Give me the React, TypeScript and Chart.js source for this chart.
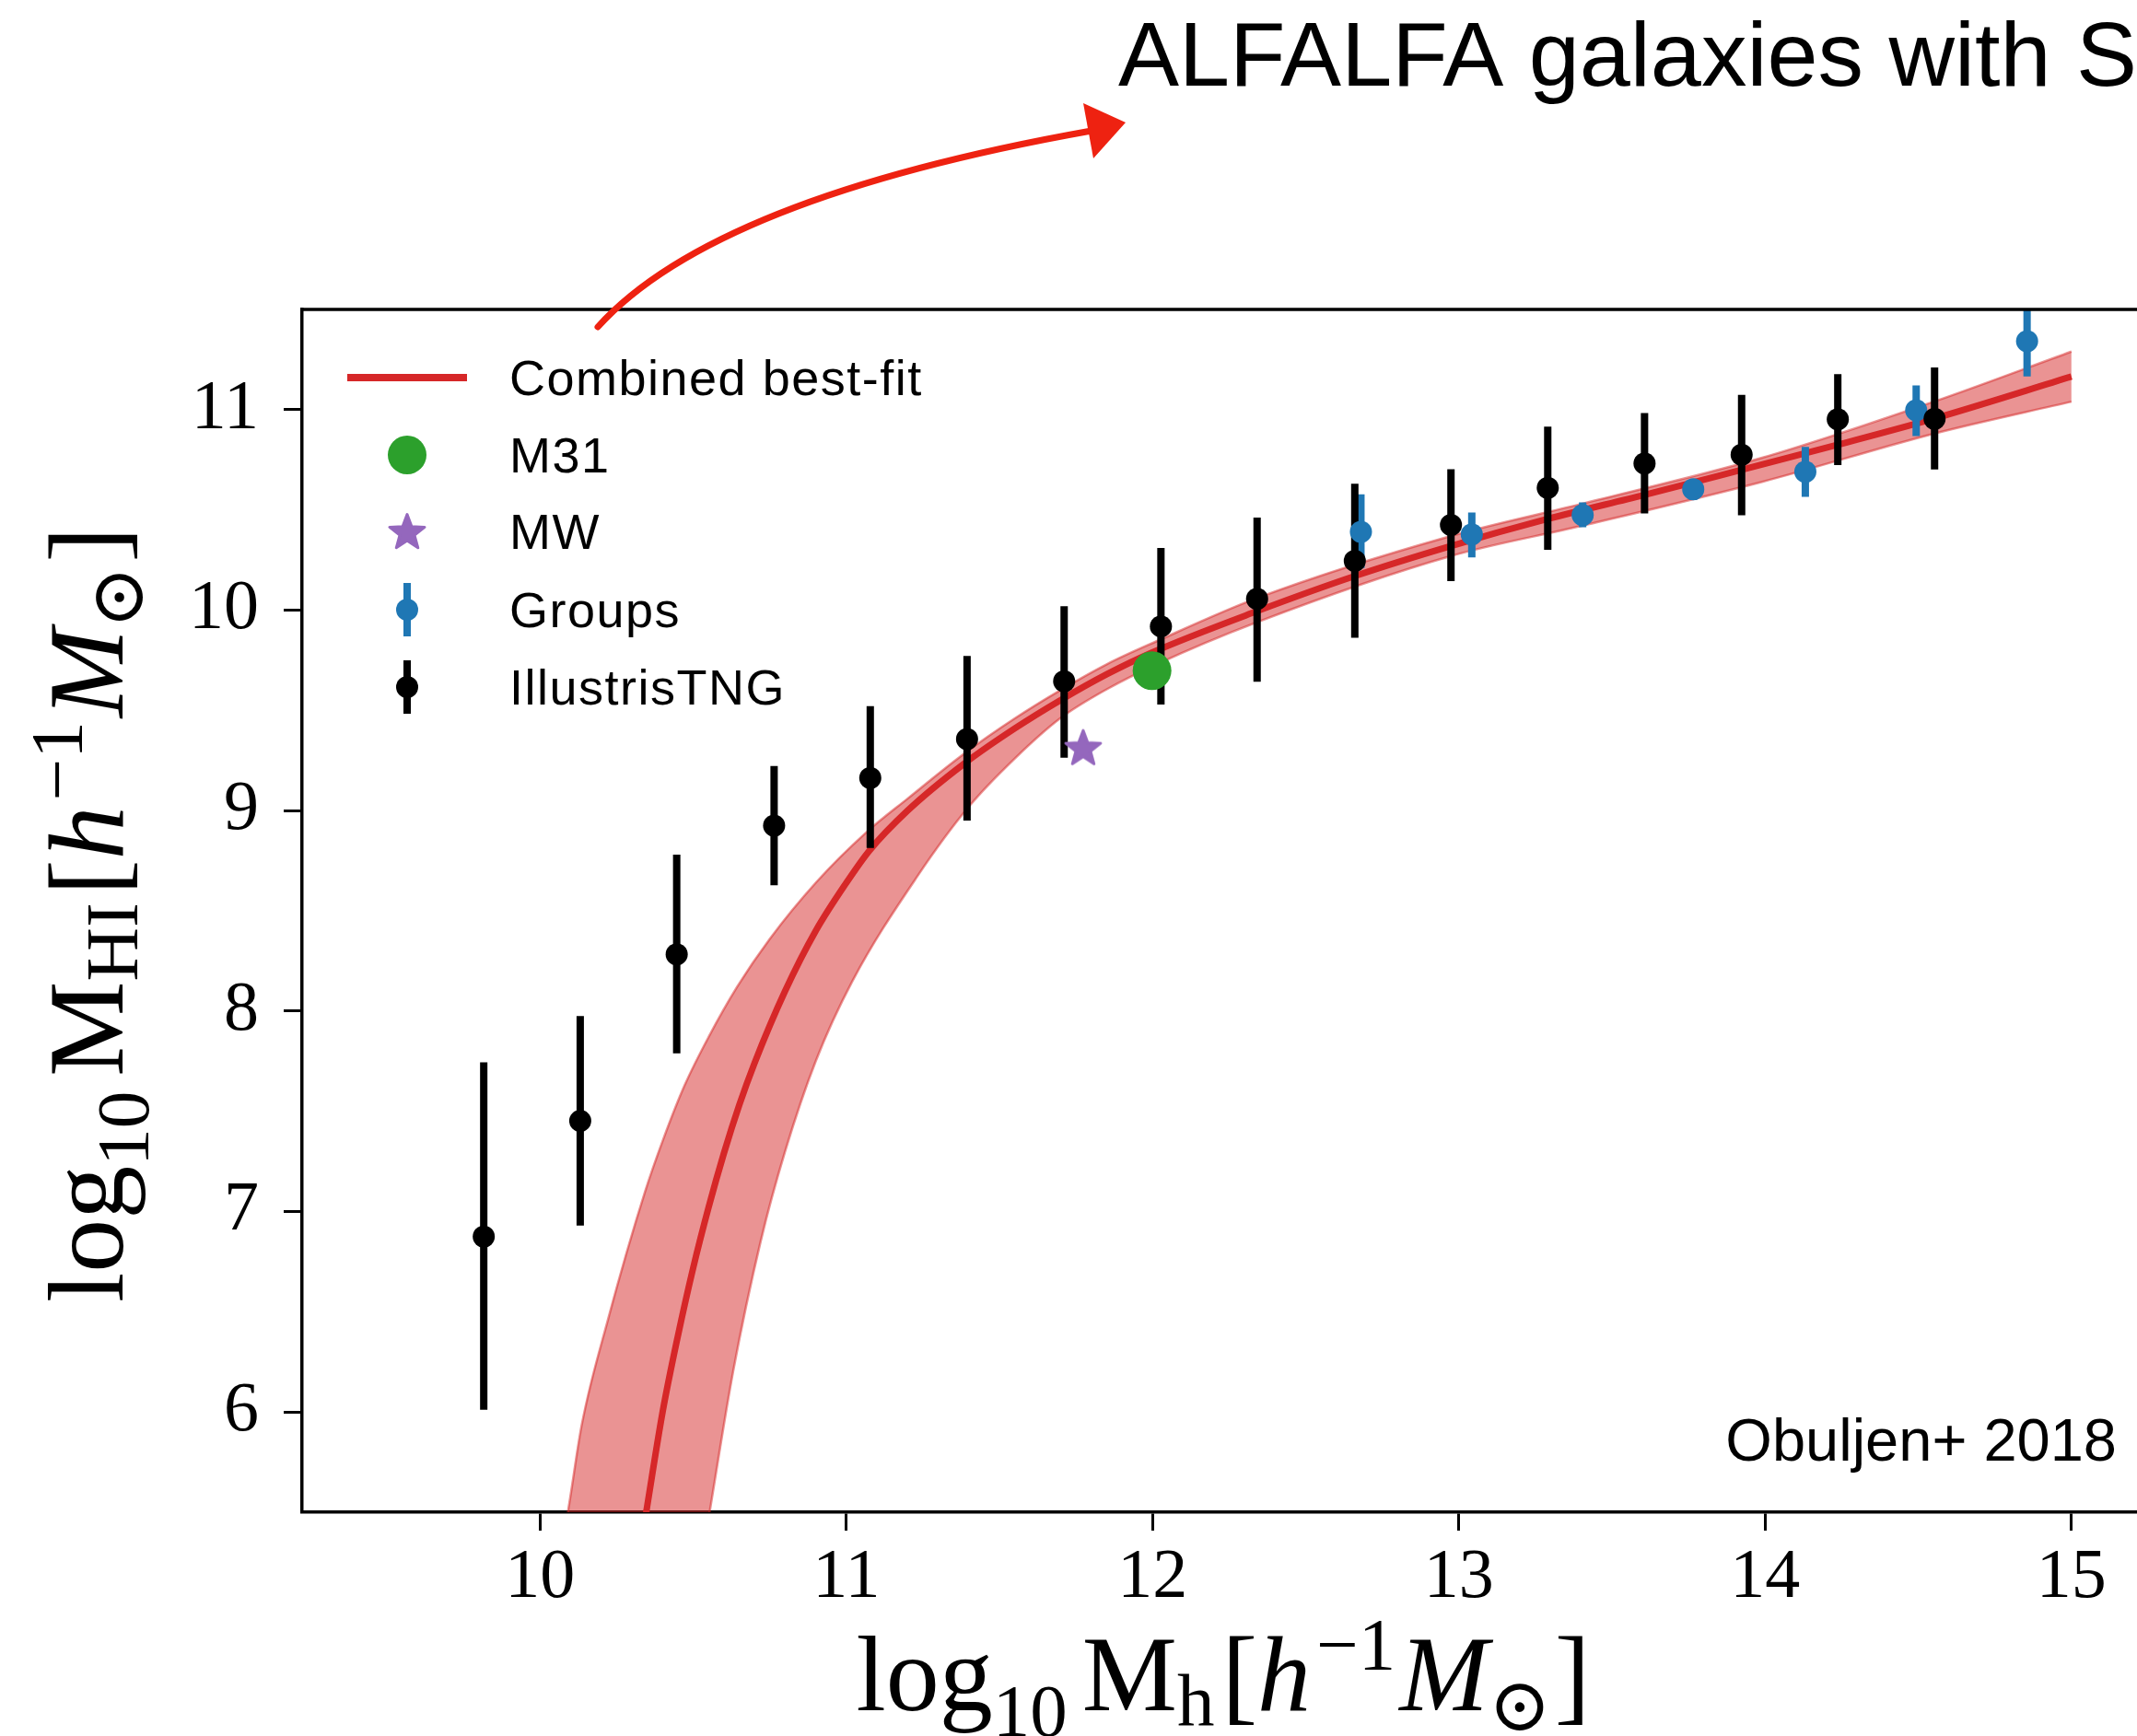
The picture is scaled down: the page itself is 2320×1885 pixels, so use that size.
import React, { useEffect, useRef } from 'react';
import { Chart, registerables } from 'chart.js';

Chart.register(...registerables);

// ---------------- data ----------------
const X_TICKS = [10, 11, 12, 13, 14, 15];
const Y_TICKS = [6, 7, 8, 9, 10, 11];

const LEGEND_LABELS = ['Combined best-fit', 'M31', 'MW', 'Groups', 'IllustrisTNG'];

// Combined best-fit curve
const FIT_X = [10.32, 10.347, 10.4, 10.45, 10.5, 10.55, 10.6, 10.65, 10.7, 10.8, 10.9, 11.0, 11.075, 11.2, 11.381, 11.55, 11.698, 11.85, 12.0, 12.341, 12.66, 12.974, 13.29, 13.606, 13.923, 14.237, 14.55, 15.0];
const FIT_Y = [5.25, 5.505, 6.0, 6.38, 6.72, 7.02, 7.29, 7.53, 7.74, 8.1, 8.4, 8.64, 8.8, 9.0, 9.23, 9.41, 9.55, 9.68, 9.79, 9.995, 10.17, 10.32, 10.455, 10.575, 10.7, 10.825, 10.955, 11.165];

// uncertainty band, upper edge
const BAND_UP_X = [10.06, 10.091, 10.136, 10.222, 10.342, 10.402, 10.472, 10.55, 10.643, 10.75, 10.9, 11.064, 11.2, 11.381, 11.55, 11.698, 11.85, 12.013, 12.341, 12.974, 13.4, 13.99, 14.55, 15.0];
const BAND_UP_Y = [5.26, 5.505, 5.936, 6.463, 7.096, 7.36, 7.63, 7.87, 8.12, 8.36, 8.64, 8.89, 9.06, 9.28, 9.46, 9.6, 9.73, 9.845, 10.06, 10.37, 10.53, 10.76, 11.04, 11.29];

// uncertainty band, lower edge
const BAND_LO_X = [10.06, 10.554, 10.63, 10.72, 10.8, 10.9, 11.02, 11.233, 11.4, 11.55, 11.698, 11.85, 12.013, 12.341, 12.974, 13.4, 13.99, 14.55, 15.0];
const BAND_LO_Y = [1.0, 5.505, 6.2, 6.85, 7.3, 7.75, 8.15, 8.675, 9.02, 9.26, 9.46, 9.605, 9.73, 9.94, 10.27, 10.42, 10.64, 10.88, 11.04];

// M31 and MW
const M31_X = [11.998];
const M31_Y = [9.698];
const MW_X = [11.773];
const MW_Y = [9.315];

// Groups (blue, with error bars)
const GROUPS_X = [12.68, 13.042, 13.404, 13.765, 14.131, 14.493, 14.855];
const GROUPS_Y = [10.391, 10.378, 10.474, 10.603, 10.69, 10.997, 11.342];
const GROUPS_LO = [10.21, 10.263, 10.414, 10.549, 10.565, 10.868, 11.166];
const GROUPS_HI = [10.578, 10.487, 10.537, 10.655, 10.814, 11.121, 11.52];

// IllustrisTNG (black, with error bars)
const TNG_X = [9.816, 10.131, 10.446, 10.764, 11.078, 11.394, 11.711, 12.027, 12.341, 12.66, 12.974, 13.29, 13.606, 13.923, 14.237, 14.553];
const TNG_Y = [6.875, 7.452, 8.283, 8.925, 9.163, 9.357, 9.645, 9.919, 10.056, 10.246, 10.425, 10.61, 10.732, 10.775, 10.952, 10.954];
const TNG_LO = [6.011, 6.93, 7.789, 8.627, 8.813, 8.95, 9.264, 9.529, 9.643, 9.862, 10.145, 10.301, 10.482, 10.473, 10.724, 10.702];
const TNG_HI = [7.744, 7.975, 8.78, 9.223, 9.521, 9.771, 10.02, 10.31, 10.462, 10.63, 10.703, 10.915, 10.983, 11.074, 11.177, 11.21];

// ---------------- styling ----------------
const RED = '#d62728';
const BAND = 'rgba(214,39,40,0.5)';
const GREEN = '#2ca02c';
const PURPLE = '#9467bd';
const BLUE = '#1f77b4';
const BLACK = '#000000';

const CANVAS_W = 2400;
const CANVAS_H = 1885;
const AREA_LEFT = 328;
const AREA_TOP = 336;
const AREA_RIGHT = 2332;
const AREA_BOTTOM = 1642;

const SERIF = "'Liberation Serif', 'DejaVu Serif', serif";
const SANS = "'Liberation Sans', Arial, sans-serif";

const xy = (xs: number[], ys: number[]) => xs.map((x, i) => ({ x, y: ys[i] }));
const errData = (xs: number[], lo: number[], hi: number[]) =>
  xs.flatMap((x, i) => [{ x, y: lo[i] }, { x, y: hi[i] }, { x, y: null as any }]);

function makeStar(r: number, color: string) {
  const size = Math.ceil(r * 2 + 6);
  const c = document.createElement('canvas');
  c.width = size;
  c.height = size;
  const g = c.getContext('2d')!;
  g.translate(size / 2, size / 2 + r * 0.08);
  g.beginPath();
  for (let i = 0; i < 10; i++) {
    const rr = i % 2 === 0 ? r : r * 0.42;
    const a = -Math.PI / 2 + (i * Math.PI) / 5;
    g.lineTo(rr * Math.cos(a), rr * Math.sin(a));
  }
  g.closePath();
  g.fillStyle = color;
  g.fill();
  g.lineJoin = 'round';
  g.lineWidth = 3;
  g.strokeStyle = color;
  g.stroke();
  return c;
}

type Run = { t: string; size: number; italic?: boolean; dy?: number; gap?: number };

function drawRuns(ctx: CanvasRenderingContext2D, runs: Run[]) {
  const fontOf = (r: Run) => `${r.italic ? 'italic ' : ''}${r.size}px ${SERIF}`;
  let total = 0;
  const widths = runs.map((r) => {
    ctx.font = fontOf(r);
    const w = ctx.measureText(r.t).width;
    total += w + (r.gap || 0);
    return w;
  });
  let x = -total / 2;
  ctx.textAlign = 'left';
  ctx.textBaseline = 'alphabetic';
  runs.forEach((r, i) => {
    x += r.gap || 0;
    ctx.font = fontOf(r);
    ctx.fillText(r.t, x, r.dy || 0);
    x += widths[i];
  });
}

const S = 116;
const s = 81;
const xTitleRuns: Run[] = [
  { t: 'log', size: S },
  { t: '10', size: s, dy: 28 },
  { t: 'M', size: S, gap: 16 },
  { t: 'h', size: s, dy: 16 },
  { t: '[', size: S, gap: 8 },
  { t: 'h', size: S, italic: true },
  { t: '\u22121', size: s, dy: -44, gap: 6 },
  { t: 'M', size: S, italic: true, gap: 4 },
  { t: '\u2299', size: s, dy: 22 },
  { t: ']', size: S, gap: 4 },
];
const yTitleRuns: Run[] = [
  { t: 'log', size: S },
  { t: '10', size: s, dy: 28 },
  { t: 'M', size: S, gap: 16 },
  { t: 'HI', size: s, dy: 16 },
  { t: '[', size: S, gap: 8 },
  { t: 'h', size: S, italic: true },
  { t: '\u22121', size: s, dy: -44, gap: 6 },
  { t: 'M', size: S, italic: true, gap: 4 },
  { t: '\u2299', size: s, dy: 22 },
  { t: ']', size: S, gap: 4 },
];

const framePlugin = {
  id: 'frame',
  afterDatasetsDraw(chart: any) {
    const { ctx, chartArea } = chart;
    ctx.save();
    ctx.strokeStyle = BLACK;
    ctx.lineWidth = 3.5;
    ctx.beginPath();
    ctx.moveTo(chartArea.left - 1.5, chartArea.top);
    ctx.lineTo(chartArea.right, chartArea.top);
    ctx.lineTo(chartArea.right, chartArea.bottom);
    ctx.stroke();
    ctx.restore();
  },
};

const decorPlugin = {
  id: 'decor',
  afterDraw(chart: any) {
    const ctx: CanvasRenderingContext2D = chart.ctx;
    ctx.save();
    ctx.fillStyle = BLACK;

    // x axis title
    ctx.save();
    ctx.translate(1328, 1857);
    drawRuns(ctx, xTitleRuns);
    ctx.restore();

    // y axis title
    ctx.save();
    ctx.translate(133, 993);
    ctx.rotate(-Math.PI / 2);
    drawRuns(ctx, yTitleRuns);
    ctx.restore();

    // legend
    const lx = 442;
    const rows = [410, 494, 577, 662, 746];
    const tx = 553;
    ctx.font = `54px ${SANS}`;
    (ctx as any).letterSpacing = '1.5px';
    ctx.textAlign = 'left';
    ctx.textBaseline = 'alphabetic';
    LEGEND_LABELS.forEach((lab, i) => {
      const cy = rows[i];
      ctx.fillStyle = BLACK;
      ctx.fillText(lab, tx, cy + 19);
      if (i === 0) {
        ctx.strokeStyle = RED;
        ctx.lineWidth = 8;
        ctx.beginPath();
        ctx.moveTo(377, cy);
        ctx.lineTo(507, cy);
        ctx.stroke();
      } else if (i === 1) {
        ctx.fillStyle = GREEN;
        ctx.beginPath();
        ctx.arc(lx, cy, 21, 0, Math.PI * 2);
        ctx.fill();
      } else if (i === 2) {
        const st = makeStar(20, PURPLE);
        ctx.drawImage(st, lx - st.width / 2, cy - st.height / 2);
      } else {
        const col = i === 3 ? BLUE : BLACK;
        ctx.strokeStyle = col;
        ctx.fillStyle = col;
        ctx.lineWidth = 8;
        ctx.lineCap = 'butt';
        ctx.beginPath();
        ctx.moveTo(lx, cy - 29);
        ctx.lineTo(lx, cy + 29);
        ctx.stroke();
        ctx.beginPath();
        ctx.arc(lx, cy, 12, 0, Math.PI * 2);
        ctx.fill();
      }
    });
    (ctx as any).letterSpacing = '0px';

    // credit text
    ctx.fillStyle = BLACK;
    ctx.font = `65px ${SANS}`;
    ctx.textAlign = 'right';
    ctx.fillText('Obuljen+ 2018', 2298, 1586);

    // headline
    ctx.textAlign = 'left';
    ctx.font = `99px ${SANS}`;
    ctx.fillText('ALFALFA galaxies with S', 1214, 93);

    // red hand-drawn arrow
    ctx.strokeStyle = '#ee2211';
    ctx.fillStyle = '#ee2211';
    ctx.lineWidth = 7;
    ctx.lineCap = 'round';
    ctx.beginPath();
    ctx.moveTo(649, 355);
    ctx.quadraticCurveTo(775, 215, 1185, 142);
    ctx.stroke();
    ctx.beginPath();
    ctx.moveTo(1176, 112);
    ctx.lineTo(1222, 133);
    ctx.lineTo(1187, 172);
    ctx.closePath();
    ctx.fill();

    ctx.restore();
  },
};

export default function App() {
  const ref = useRef<HTMLCanvasElement>(null);

  useEffect(() => {
    const canvas = ref.current!;
    const star = makeStar(20, PURPLE);
    const chart = new Chart(canvas, {
      type: 'line',
      data: {
        datasets: [
          {
            label: 'band upper',
            data: xy(BAND_UP_X, BAND_UP_Y),
            borderColor: BAND,
            backgroundColor: BAND,
            borderWidth: 2.5,
            pointRadius: 0,
            fill: '+1',
            cubicInterpolationMode: 'monotone',
            clip: 0,
            order: 100,
          },
          {
            label: 'band lower',
            data: xy(BAND_LO_X, BAND_LO_Y),
            borderColor: BAND,
            backgroundColor: BAND,
            borderWidth: 2.5,
            pointRadius: 0,
            fill: false,
            cubicInterpolationMode: 'monotone',
            clip: 0,
            order: 99,
          },
          {
            label: LEGEND_LABELS[0],
            data: xy(FIT_X, FIT_Y),
            borderColor: RED,
            borderWidth: 7,
            pointRadius: 0,
            fill: false,
            cubicInterpolationMode: 'monotone',
            clip: 0,
            order: 90,
          },
          {
            label: 'Groups errors',
            data: errData(GROUPS_X, GROUPS_LO, GROUPS_HI),
            borderColor: BLUE,
            borderWidth: 8,
            borderCapStyle: 'butt',
            pointRadius: 0,
            spanGaps: false,
            fill: false,
            clip: 0,
            order: 60,
          },
          {
            label: 'IllustrisTNG errors',
            data: errData(TNG_X, TNG_LO, TNG_HI),
            borderColor: BLACK,
            borderWidth: 8,
            borderCapStyle: 'butt',
            pointRadius: 0,
            spanGaps: false,
            fill: false,
            clip: 0,
            order: 55,
          },
          {
            label: LEGEND_LABELS[3],
            data: xy(GROUPS_X, GROUPS_Y),
            showLine: false,
            pointRadius: 12,
            pointBackgroundColor: BLUE,
            pointBorderWidth: 0,
            order: 50,
          },
          {
            label: LEGEND_LABELS[4],
            data: xy(TNG_X, TNG_Y),
            showLine: false,
            pointRadius: 12,
            pointBackgroundColor: BLACK,
            pointBorderWidth: 0,
            order: 45,
          },
          {
            label: LEGEND_LABELS[2],
            data: xy(MW_X, MW_Y),
            showLine: false,
            pointStyle: star as any,
            pointRadius: 20,
            order: 11,
          },
          {
            label: LEGEND_LABELS[1],
            data: xy(M31_X, M31_Y),
            showLine: false,
            pointRadius: 21,
            pointBackgroundColor: GREEN,
            pointBorderWidth: 0,
            order: 10,
          },
        ] as any,
      },
      options: {
        animation: false,
        responsive: false,
        devicePixelRatio: 1,
        events: [],
        layout: { padding: { top: AREA_TOP, right: CANVAS_W - AREA_RIGHT, bottom: 0, left: 0 } },
        plugins: { legend: { display: false }, tooltip: { enabled: false }, title: { display: false } },
        scales: {
          x: {
            type: 'linear',
            min: 9.223,
            max: 15.25,
            afterBuildTicks: (axis: any) => {
              axis.ticks = X_TICKS.map((v) => ({ value: v }));
            },
            afterFit: (axis: any) => {
              axis.height = CANVAS_H - AREA_BOTTOM;
            },
            grid: { display: true, drawOnChartArea: false, drawTicks: true, tickLength: 20, tickWidth: 3, tickColor: BLACK },
            border: { display: true, color: BLACK, width: 3.5 },
            ticks: { color: BLACK, padding: 6, font: { family: SERIF, size: 76 }, maxRotation: 0, autoSkip: false },
          },
          y: {
            type: 'linear',
            min: 5.5,
            max: 11.5,
            afterBuildTicks: (axis: any) => {
              axis.ticks = Y_TICKS.map((v) => ({ value: v }));
            },
            afterFit: (axis: any) => {
              axis.width = AREA_LEFT;
            },
            grid: { display: true, drawOnChartArea: false, drawTicks: true, tickLength: 20, tickWidth: 3, tickColor: BLACK },
            border: { display: true, color: BLACK, width: 3.5 },
            ticks: { color: BLACK, padding: 27, font: { family: SERIF, size: 76 }, autoSkip: false },
          },
        },
      } as any,
      plugins: [framePlugin, decorPlugin],
    });
    return () => chart.destroy();
  }, []);

  return (
    <div
      style={{
        position: 'absolute',
        left: 0,
        top: 0,
        width: 2320,
        height: 1885,
        overflow: 'hidden',
        background: '#ffffff',
      }}
    >
      <canvas
        ref={ref}
        width={CANVAS_W}
        height={CANVAS_H}
        style={{ display: 'block', width: CANVAS_W, height: CANVAS_H }}
      />
    </div>
  );
}
